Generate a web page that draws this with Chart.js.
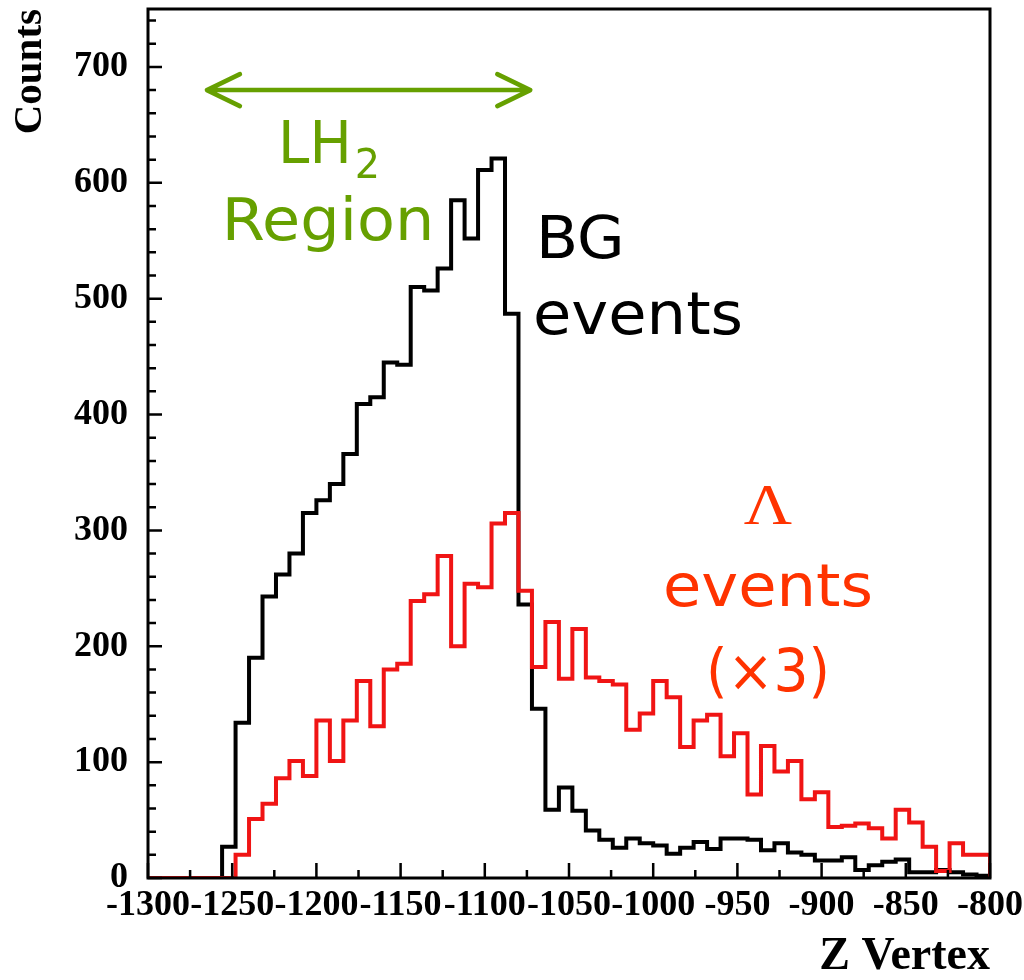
<!DOCTYPE html>
<html>
<head>
<meta charset="utf-8">
<title>Z Vertex distribution</title>
<script src="https://cdn.jsdelivr.net/npm/chart.js@4.4.1/dist/chart.umd.min.js"></script>
<style>
  html, body { margin: 0; padding: 0; background: #fff; }
  #wrap { position: relative; width: 1024px; height: 980px; overflow: hidden; background: #fff; }
  #c { position: absolute; left: 0; top: 0; }
  .note { position: absolute; white-space: nowrap; font-family: 'DejaVu Sans', 'Noto Sans', sans-serif;
          font-size: 58px; line-height: 58px; }
  .green { color: #66a000; }
  .black { color: #000; }
  .orange { color: #ff3300; }
  .sub { font-size: 41px; line-height: 0; position: relative; top: 15px; margin-left: 3px; }
  .greek { font-family: 'Liberation Serif', 'DejaVu Serif', serif; font-size: 58px; line-height: 58px; }
</style>
</head>
<body>
<div id="wrap">
  <canvas id="c" width="1024" height="980"></canvas>
  <div class="note green" style="left:329px; top:114px; transform: translateX(-50%) scaleX(0.97);">LH<span class="sub">2</span></div>
  <div class="note green" style="left:328px; top:191px; transform: translateX(-50%) scaleX(1.07);">Region</div>
  <div class="note black" style="left:536px; top:209px; transform-origin: left center; transform: scaleX(1.06);">BG</div>
  <div class="note black" style="left:533px; top:285px; transform-origin: left center; transform: scaleX(1.075);">events</div>
  <div class="note orange greek" style="left:768px; top:476px; transform: translateX(-50%) scaleX(1.15);">Λ</div>
  <div class="note orange" style="left:768px; top:557px; transform: translateX(-50%) scaleX(1.075);">events</div>
  <div class="note orange" style="left:768px; top:642px; transform: translateX(-50%) scaleX(0.95);">(×3)</div>
</div>
<script>
// Axis range and ticks
const xMin = -1300;
const xMax = -800;
const yMin = 0;
const yMax = 750;
const xTickValues = [-1300, -1250, -1200, -1150, -1100, -1050, -1000, -950, -900, -850, -800];
const xTickLabels = ['-1300', '-1250', '-1200', '-1150', '-1100', '-1050', '-1000', '-950', '-900', '-850', '-800'];
const yTickValues = [0, 100, 200, 300, 400, 500, 600, 700];
const yTickLabels = ['0', '100', '200', '300', '400', '500', '600', '700'];

// Lower edges of the 8-unit Z bins
const zBinLow = [
  -1256, -1248, -1240, -1232, -1224, -1216, -1208, -1200, -1192, -1184,
  -1176, -1168, -1160, -1152, -1144, -1136, -1128, -1120, -1112, -1104,
  -1096, -1088, -1080, -1072, -1064, -1056, -1048, -1040, -1032, -1024,
  -1016, -1008, -1000, -992, -984, -976, -968, -960, -952, -944,
  -936, -928, -920, -912, -904, -896, -888, -880, -872, -864,
  -856, -848, -840, -832, -824, -816, -808
];

// Background events per bin
const bgCounts = [
  27, 134, 190, 243, 262, 280, 315, 326, 340, 366,
  409, 415, 445, 443, 510, 507, 526, 585, 552, 611,
  621, 487, 236, 146, 59, 78, 58, 41, 33, 26,
  34, 30, 28, 21, 26, 31, 25, 34, 34, 33,
  24, 30, 22, 20, 15, 15, 18, 7, 11, 14,
  16, 5, 5, 7, 5, 3, 2
];

// Lambda events per bin (scaled x3)
const lambdaCounts = [
  0, 20, 51, 64, 86, 101, 88, 136, 101, 136,
  170, 131, 180, 185, 239, 245, 278, 200, 254, 251,
  306, 315, 248, 182, 221, 172, 215, 173, 170, 167,
  128, 142, 170, 156, 113, 136, 141, 105, 125, 72,
  114, 92, 101, 68, 74, 44, 45, 47, 43, 34,
  59, 48, 27, 6, 30, 20, 20
];

// LH2 target region marked by the double arrow
const lh2Span = [-1265, -1073];
const lh2ArrowLevel = 680;

const RED = '#f01414';
const GREEN = '#66a000';
const SERIF = "'Liberation Serif', 'Times New Roman', 'DejaVu Serif', serif";

// Outline of a histogram: zero run-in, one step per bin, drop back to zero at the end
function histOutline(counts) {
  const pts = [{ x: xMin, y: 0 }];
  zBinLow.forEach((z, i) => pts.push({ x: z, y: counts[i] }));
  pts.push({ x: xMax, y: 0 });
  return pts;
}

// Keep the plot frame fixed: no extra room for overhanging tick labels
function noOverhang(s) {
  s.paddingTop = 0;
  s.paddingBottom = 0;
  s.paddingLeft = 0;
  s.paddingRight = 0;
}

// Frame, inward tick marks and the LH2 arrow
const frameAndTicks = {
  id: 'frameAndTicks',
  afterDatasetsDraw(chart) {
    const { ctx, chartArea: a, scales: { x, y } } = chart;
    ctx.save();
    ctx.strokeStyle = '#000';
    ctx.lineWidth = 2.5;
    ctx.beginPath();
    for (let v = xMin; v <= xMax; v += 25) {
      const px = x.getPixelForValue(v);
      const len = (v % 50 === 0) ? 15 : 8;
      ctx.moveTo(px, a.bottom);
      ctx.lineTo(px, a.bottom - len);
    }
    for (let v = yMin; v <= yMax; v += 20) {
      const py = y.getPixelForValue(v);
      const len = (v % 100 === 0) ? 14 : 8;
      ctx.moveTo(a.left, py);
      ctx.lineTo(a.left + len, py);
    }
    ctx.stroke();
    ctx.lineWidth = 3;
    ctx.strokeRect(a.left, a.top, a.right - a.left, a.bottom - a.top);

    // double-headed arrow over the LH2 region
    const x0 = x.getPixelForValue(lh2Span[0]);
    const x1 = x.getPixelForValue(lh2Span[1]);
    const ya = y.getPixelForValue(lh2ArrowLevel);
    ctx.strokeStyle = GREEN;
    ctx.lineWidth = 4.5;
    ctx.lineCap = 'round';
    ctx.lineJoin = 'round';
    ctx.beginPath();
    ctx.moveTo(x0, ya);
    ctx.lineTo(x1, ya);
    ctx.moveTo(x0 + 33, ya - 16);
    ctx.lineTo(x0, ya);
    ctx.lineTo(x0 + 33, ya + 16);
    ctx.moveTo(x1 - 33, ya - 16);
    ctx.lineTo(x1, ya);
    ctx.lineTo(x1 - 33, ya + 16);
    ctx.stroke();
    ctx.restore();
  }
};

new Chart(document.getElementById('c'), {
  type: 'line',
  data: {
    datasets: [
      {
        label: 'Λ events (×3)',
        data: histOutline(lambdaCounts),
        borderColor: RED,
        borderWidth: 4,
        borderJoinStyle: 'miter',
        stepped: 'before',
        pointRadius: 0,
        fill: false,
        order: 0
      },
      {
        label: 'BG events',
        data: histOutline(bgCounts),
        borderColor: '#000',
        borderWidth: 4,
        borderJoinStyle: 'miter',
        stepped: 'before',
        pointRadius: 0,
        fill: false,
        order: 1
      }
    ]
  },
  options: {
    responsive: false,
    animation: false,
    events: [],
    layout: { padding: { top: 9, right: 34, bottom: 0, left: 0 } },
    plugins: { legend: { display: false }, tooltip: { enabled: false } },
    scales: {
      x: {
        type: 'linear',
        min: xMin,
        max: xMax,
        grid: { display: false, drawTicks: false },
        border: { display: false },
        afterBuildTicks: (s) => { s.ticks = xTickValues.map(v => ({ value: v })); },
        afterFit: (s) => { s.height = 102; noOverhang(s); },
        ticks: {
          autoSkip: false,
          maxRotation: 0,
          minRotation: 0,
          padding: 6,
          color: '#000',
          font: { family: SERIF, size: 36, weight: 'bold' },
          callback: (v, i) => xTickLabels[i]
        },
        title: {
          display: true,
          text: 'Z Vertex',
          align: 'end',
          color: '#000',
          font: { family: SERIF, size: 46, weight: 'bold', lineHeight: 1 },
          padding: { top: 0, bottom: 0 }
        }
      },
      y: {
        type: 'linear',
        min: yMin,
        max: yMax,
        grid: { display: false, drawTicks: false },
        border: { display: false },
        afterBuildTicks: (s) => { s.ticks = yTickValues.map(v => ({ value: v })); },
        afterFit: (s) => { s.width = 148; noOverhang(s); },
        ticks: {
          padding: 20,
          color: '#000',
          font: { family: SERIF, size: 36, weight: 'bold' },
          callback: (v, i) => yTickLabels[i]
        },
        title: {
          display: true,
          text: 'Counts',
          align: 'end',
          color: '#000',
          font: { family: SERIF, size: 41, weight: 'bold', lineHeight: 1 },
          padding: { top: 10, bottom: 0 }
        }
      }
    }
  },
  plugins: [frameAndTicks]
});
</script>
</body>
</html>
